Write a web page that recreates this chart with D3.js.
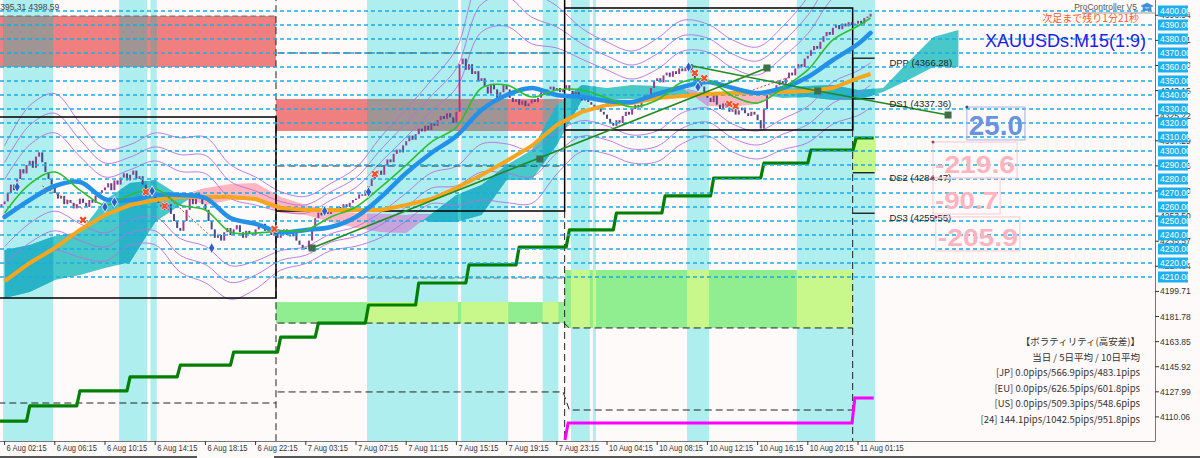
<!DOCTYPE html>
<html><head><meta charset="utf-8">
<script src="https://cdn.jsdelivr.net/npm/d3@7"></script>
<style>
html,body{margin:0;padding:0;background:#fffafa;overflow:hidden}
svg{display:block}
</style></head><body>
<svg id="c" width="1200" height="458"></svg>
<script>
// ---------------- DATA ----------------
const firstBar = -1;
const firstOpen = 4260;
const closes = [
4262,
4264,4270,4276,4272,4280,4287,4284,4290,4293,4288,4296,4299,4292,4285,4280,4276,
4270,4266,4268,4262,4265,4263,4259,4262,4266,4263,4260,4265,4263,4268,4270,4272,
4274,4277,4272,4279,4276,4281,4284,4279,4283,4286,4280,4282,4276,4272,4270,4268,
4266,4263,4260,4258,4262,4255,4250,4245,4243,4250,4258,4266,4262,4270,4268,4262,
4258,4250,4244,4238,4240,4236,4242,4245,4240,4244,4247,4242,4238,4243,4241,4240,
4244,4246,4248,4243,4245,4240,4242,4238,4241,4244,4240,4239,4242,4236,4233,4231,
4230,4236,4245,4252,4256,4254,4258,4255,4259,4257,4260,4258,4262,4260,4263,4265,
4266,4269,4268,4272,4275,4280,4284,4286,4283,4290,4294,4292,4298,4301,4299,4304,
4307,4311,4308,4312,4316,4314,4318,4315,4320,4318,4322,4325,4323,4327,4324,4320,
4328,4362,4366,4358,4362,4355,4357,4350,4352,4346,4341,4348,4344,4337,4342,4347,
4344,4338,4335,4337,4333,4336,4332,4334,4337,4335,4338,4342,4340,4344,4346,4343,
4345,4342,4344,4347,4343,4340,4342,4338,4336,4339,4335,4333,4330,4332,4328,4326,
4323,4320,4318,4322,4320,4325,4328,4326,4330,4333,4331,4336,4340,4338,4345,4350,
4352,4349,4354,4356,4353,4357,4355,4359,4357,4360,4362,4356,4350,4352,4346,4342,
4338,4335,4340,4333,4330,4334,4331,4328,4330,4326,4329,4331,4327,4325,4328,4326,
4322,4316,4330,4340,4344,4342,4347,4350,4348,4352,4356,4354,4359,4362,4360,4366,
4368,4372,4375,4373,4378,4382,4385,4383,4388,4390,4387,4391,4389,4392,4390,4391,
4393,4391,4395,4396,4398
];

// indicator samples (every 8 bars, last = bar 276)
const blueMA = [4252.9,4265.0,4275.0,4277.9,4265.7,4265.0,4268.6,4268.6,4266.4,4252.1,4247.9,4242.1,4243.6,4245.7,4252.9,4267.1,4284.3,4298.6,4310.7,4329.3,4340.0,4345.0,4340.0,4338.6,4335.7,4335.0,4340.7,4345.7,4349.3,4345.0,4341.4,4345.0,4352.9,4365.0,4376.4,4384.3];
const greenMA = [4255.7,4276.4,4285.0,4272.1,4261.4,4268.6,4272.9,4261.4,4257.9,4242.1,4241.4,4242.9,4243.6,4252.9,4260.0,4274.3,4290.0,4306.4,4317.1,4345.0,4347.1,4338.6,4343.6,4343.6,4337.9,4331.4,4336.4,4349.3,4350.7,4339.3,4334.3,4345.0,4357.9,4379.3,4389.3,4395.0];
const orangeLine = [4207.1,4220.0,4230.7,4243.6,4254.3,4261.4,4265.0,4267.1,4267.1,4267.1,4265.7,4259.3,4257.9,4257.9,4257.9,4257.9,4261.4,4265.7,4273.6,4282.9,4292.9,4303.6,4318.6,4327.9,4332.9,4334.3,4337.9,4339.3,4340.7,4341.4,4341.4,4342.1,4342.9,4345.0,4352.1,4355.0];
const bandSigma = [12,14,14,12,10,9,10,12,13,12,10,7,6,6,7,9,10,11,14,20,21,19,15,11,10,10,11,11,10,10,10,11,13,15,16,16];
const bandMultipliers = [2,3,4];

// cloud (every 8 bars from 0 to 304)
const spanA = [4229.3,4232.9,4239.3,4242.1,4265.0,4277.1,4279.3,4267.9,4261.4,4265.0,4265.0,4255.7,4254.3,4249.3,4245.0,4242.1,4241.4,4255.0,4268.6,4275.7,4290.0,4300.7,4332.9,4347.1,4345.0,4347.1,4346.4,4345.0,4332.1,4331.4,4333.6,4345.0,4346.4,4347.1,4343.6,4345.0,4363.6,4381.4,4386.4];
const spanB = [4195.0,4199.3,4207.9,4211.4,4216.4,4220.7,4249.3,4261.4,4273.6,4276.4,4277.1,4267.1,4261.4,4257.9,4255.7,4255.0,4254.3,4249.3,4249.3,4254.3,4279.3,4279.3,4304.3,4336.4,4336.4,4337.1,4337.9,4337.9,4340.7,4340.0,4340.7,4337.9,4338.6,4336.4,4336.4,4342.1,4350.7,4360.0,4360.0];

// session bands [first bar, last bar]
const sessionBands = [[0,15],[37,45],[47,48],[116,144],[146,160],[172,176],[181,186],[188,188],[218,224],[253,277]];

// zones
const redZoneStart = [-2, 86.5];
const redZoneEnd   = [86.5, 178.5];
const redZoneLow   = [4360.0, 4314.3];
const redZoneHigh  = [4396.4, 4337.1];
const greenZoneStart = [86.5, 178.5, 270.3];
const greenZoneEnd   = [178.5, 270.3, 277.5];
const greenZoneLow   = [4177.1, 4173.6, 4285.0];
const greenZoneHigh  = [4192.1, 4215.0, 4310.0];

// day boxes (solid) and levels (dashed)
const solidLines = [
  [[-2,4324.3],[86.5,4324.3],[86.5,4195.0],[-2,4195.0]],
  [[86.5,4257.1],[178.5,4257.1],[178.5,4415]],
  [[178.5,4402.1],[270.3,4402.1],[270.3,4315.0],[178.5,4315.0]],
  [[270.3,4366.28],[270.3,4315.0]]
];
const dashedLines = [
  [[-2,4120.0],[86.5,4120.0]],
  [[87,4370.0],[178.3,4370.0]],
  [[87,4289.3],[178.3,4289.3]],
  [[87,4177.1],[178.3,4177.1],[180,4173.6],[270.3,4173.6]],
  [[87,4127.9],[178,4127.9],[180,4115.0],[270.3,4115.0]],
  [[86.5,4412],[86.5,4088]],
  [[178.5,4257.1],[178.5,4088]],
  [[270.3,4315.0],[270.3,4088]]
];
const grayDashedLines = [
  [[-2,4396.4],[86.5,4396.4]],
  [[87,4209.3],[178.3,4209.3]]
];

// step lines
const greenStepBars   = [-2,7,23,39,55,72,87,99,115,131,147,163,179,194,209.5,225,241,256,270.4,277];
const greenStepLevels = [4107.1,4117.9,4128.6,4138.6,4147.1,4156.4,4167.1,4177.1,4190.0,4205.7,4218.6,4231.4,4243.6,4255.7,4267.9,4280.7,4291.4,4300.7,4309.3];
const magentaStepBars   = [178.6,179.6,270.1,271,277];
const magentaStepLevels = [4093.6,4105.7,4105.7,4123.6,4123.6];

// trend lines
const trendA = [[98,4230.7],[170.6,4294.3],[243,4359.3]];
const trendB = [[217.8,4361.4],[259.2,4342.9],[300.7,4325.7]];
const dottedLines = [[[12,4275.1],[25,4258.6]],[[52,4267.1],[66,4238.6]],[[238.5,4343.6],[250.3,4352.9]]];

// signals
const blueSignalBars   = [4,32,35,47,66,102,116,218,221];
const blueSignalPrices = [4274.3,4260.0,4263.6,4271.4,4230.7,4257.1,4270.7,4360.0,4345.7];
const redSignalBars    = [25,45,51,86,118,220,223,231,233];
const redSignalPrices  = [4250.7,4270.7,4260.7,4244.3,4283.6,4355.7,4352.0,4333.6,4332.1];

// pivots
const pivotNames  = ["DPP","DS1","DS2","DS3"];
const pivotValues = [4366.28,4337.36,4284.47,4255.55];

// big numbers
const bigValues = ["25.0","-219.6","-90.7","-205.9"];

// axes
const gridLevels = [4400,4390,4380,4370,4360,4350,4340,4330,4320,4310,4300,4290,4280,4270,4260,4250,4240,4230,4220,4210];
const nativeTicks = [4110.06,4127.99,4145.92,4163.85,4181.78,4199.71,4217.64,4235.57,4253.50,4271.43,4289.36,4307.29,4325.22,4343.15,4361.08,4379.01,4396.94];
const timeTickBars = [0,16,32,48,64,80,96,112,128,144,160,176,192,208,224,240,256,272];
const timeLabels = ["6 Aug 02:15","6 Aug 06:15","6 Aug 10:15","6 Aug 14:15","6 Aug 18:15","6 Aug 22:15","7 Aug 03:15","7 Aug 07:15","7 Aug 11:15","7 Aug 15:15","7 Aug 19:15","7 Aug 23:15","10 Aug 04:15","10 Aug 08:15","10 Aug 12:15","10 Aug 16:15","10 Aug 20:15","11 Aug 01:15"];

const volLines = ["【ボラティリティ(高安差)】","当日 / 5日平均 / 10日平均","[JP] 0.0pips/566.9pips/483.1pips","[EU] 0.0pips/626.5pips/601.8pips","[US] 0.0pips/509.3pips/548.6pips","[24] 144.1pips/1042.5pips/951.8pips"];
const bidAsk = "4395.31 4398.59";
const bidPrice = 4398.59;

// ---------------- DRAW ----------------
const W = 1200, H = 458, PR = 1155, PB = 441;
const svg = d3.select("#c");
const x = d3.scaleLinear().domain([0, 272]).range([4.6, 858]);
const y = d3.scaleLinear().domain([4400, 4210]).range([11, 277]);
const FONT = "'Liberation Sans', Arial, sans-serif";
const CJK = "'Noto Sans CJK JP', 'Liberation Sans', sans-serif";

svg.append("rect").attr("width", W).attr("height", H).attr("fill", "#fffafa");
const defs = svg.append("defs");
defs.append("clipPath").attr("id","plot").append("rect").attr("x",0).attr("y",0).attr("width",PR).attr("height",PB);
const bandClip = defs.append("clipPath").attr("id","bands");
sessionBands.forEach(b => bandClip.append("rect").attr("x", x(b[0]-0.5)).attr("y",0).attr("width", x(b[1]+0.5)-x(b[0]-0.5)).attr("height",PB));

const g = svg.append("g").attr("clip-path","url(#plot)");

// session bands
g.selectAll(".band").data(sessionBands).join("rect")
  .attr("x", d => x(d[0]-0.5)).attr("y", 0)
  .attr("width", d => x(d[1]+0.5)-x(d[0]-0.5)).attr("height", PB)
  .attr("fill", "#afeeee");

// zones with blend where overlapping bands
function drawZones(starts, ends, lows, highs, col, blend){
  starts.forEach((s,i)=>{
    const e = ends[i], lo = lows[i], hi = highs[i];
    g.append("rect").attr("x", x(s)).attr("y", y(hi)).attr("width", x(e)-x(s)).attr("height", y(lo)-y(hi)).attr("fill", col);
    sessionBands.forEach(b=>{
      const a0 = Math.max(s, b[0]-0.5), a1 = Math.min(e, b[1]+0.5);
      if (a1 > a0) g.append("rect").attr("x", x(a0)).attr("y", y(hi)).attr("width", x(a1)-x(a0)).attr("height", y(lo)-y(hi)).attr("fill", blend);
    });
  });
}
drawZones(redZoneStart, redZoneEnd, redZoneLow, redZoneHigh, "#f08080", "#a09494");
drawZones(greenZoneStart, greenZoneEnd, greenZoneLow, greenZoneHigh, "#90ee90", "#c8f78c");

// cloud
const cloudData = spanA.map((a,i)=>({b: i*8, a, s: spanB[i]}));
const tealArea = d3.area().x(d=>x(d.b)).y0(d=>y(d.s)).y1(d=>y(Math.max(d.a,d.s))).curve(d3.curveLinear);
const pinkArea = d3.area().x(d=>x(d.b)).y0(d=>y(d.a)).y1(d=>y(Math.max(d.a,d.s))).curve(d3.curveLinear);
g.append("path").attr("d", tealArea(cloudData)).attr("fill", "#48c8c8");
g.append("path").attr("d", pinkArea(cloudData)).attr("fill", "#ffb6c1");
const gc = g.append("g").attr("clip-path","url(#bands)");
gc.append("path").attr("d", tealArea(cloudData)).attr("fill", "#28b4c6");
gc.append("path").attr("d", pinkArea(cloudData)).attr("fill", "#c4a6dc");

// sample bars for indicators
const sampleBars = blueMA.map((v,i)=> i < blueMA.length-1 ? i*8 : 276);

// bollinger-type bands
bandMultipliers.forEach(k=>{
  [1,-1].forEach(sg=>{
    const ln = d3.line().x((d,i)=>x(sampleBars[i])).y((d,i)=>y(greenMA[i] + sg*k*bandSigma[i])).curve(d3.curveCatmullRom);
    g.append("path").attr("d", ln(greenMA)).attr("fill","none").attr("stroke","#b46fe0").attr("stroke-width",0.9);
  });
});

// lines helpers
const pl = d3.line().x(d=>x(d[0])).y(d=>y(d[1]));
dashedLines.forEach(l=> g.append("path").attr("d", pl(l)).attr("fill","none").attr("stroke","#222").attr("stroke-width",1).attr("stroke-dasharray","7,4"));
grayDashedLines.forEach(l=> g.append("path").attr("d", pl(l)).attr("fill","none").attr("stroke","#777").attr("stroke-width",1.2).attr("stroke-dasharray","6,3"));
solidLines.forEach(l=> g.append("path").attr("d", pl(l)).attr("fill","none").attr("stroke","#000").attr("stroke-width",1.5));

// pivot short lines
pivotValues.forEach(v=> g.append("line").attr("x1", x(270.3)).attr("x2", x(277.3)).attr("y1", y(v)).attr("y2", y(v)).attr("stroke","#111").attr("stroke-width",1.3));

// step lines
function stepPts(bars, levels){
  const pts = [];
  for (let i=0;i<levels.length;i++){
    pts.push([i===0 ? bars[0] : bars[i]+1, levels[i]]);
    pts.push([bars[i+1], levels[i]]);
  }
  return pts;
}
g.append("path").attr("d", pl(stepPts(greenStepBars, greenStepLevels))).attr("fill","none").attr("stroke","#008000").attr("stroke-width",3.2).attr("stroke-linejoin","round");
g.append("path").attr("d", pl(magentaStepBars.map((b,i)=>[b, magentaStepLevels[i]]))).attr("fill","none").attr("stroke","#ff00ff").attr("stroke-width",3);

// candles
const candles = closes.map((c,i)=>({bar: firstBar+i, o: i ? closes[i-1] : firstOpen, c}));
g.selectAll(".cd").data(candles).join("rect")
  .attr("x", d=>x(d.bar)-1).attr("width", 2)
  .attr("y", d=>y(Math.max(d.o,d.c)))
  .attr("height", d=>Math.max(1.2, Math.abs(y(d.o)-y(d.c))))
  .attr("fill", d=> d.c >= d.o ? "#9a3d8c" : "#4a4a86");

// grid dashed levels
gridLevels.forEach(v=> g.append("line").attr("x1",0).attr("x2",PR).attr("y1",y(v)).attr("y2",y(v)).attr("stroke","#1aaae6").attr("stroke-width",1.5).attr("stroke-dasharray","4,3"));

// moving averages
const maLine = d3.line().x((d,i)=>x(sampleBars[i])).y(d=>y(d));
g.append("path").attr("d", maLine.curve(d3.curveLinear)(orangeLine)).attr("fill","none").attr("stroke","#f7a51c").attr("stroke-width",4);
g.append("path").attr("d", maLine.curve(d3.curveCatmullRom)(blueMA)).attr("fill","none").attr("stroke","#2391e8").attr("stroke-width",4.5).attr("stroke-linecap","round");
g.append("path").attr("d", maLine.curve(d3.curveCatmullRom)(greenMA)).attr("fill","none").attr("stroke","#2dbf2d").attr("stroke-width",1.6);

// trend lines
g.append("path").attr("d", pl([trendA[0], trendA[2]])).attr("stroke","#1f8a1f").attr("stroke-width",1.6).attr("fill","none");
g.append("path").attr("d", pl(trendB)).attr("stroke","#1f8a1f").attr("stroke-width",1.6).attr("fill","none");
trendA.concat(trendB.slice(1)).forEach(p=> g.append("rect").attr("x",x(p[0])-3.5).attr("y",y(p[1])-3.5).attr("width",7).attr("height",7).attr("fill","#3d7048"));
dottedLines.forEach(l=> g.append("path").attr("d", pl(l)).attr("fill","none").attr("stroke","#d04a3a").attr("stroke-width",1).attr("stroke-dasharray","2,2"));

// signals
const dia = d3.symbol().type(d3.symbolDiamond).size(34);
blueSignalBars.forEach((b,i)=> g.append("path").attr("d", dia()).attr("transform",`translate(${x(b)},${y(blueSignalPrices[i])})`).attr("fill","#2a5fd0").attr("stroke","#fff").attr("stroke-width",0.8));
const cross = d3.symbol().type(d3.symbolCross).size(40);
redSignalBars.forEach((b,i)=> g.append("path").attr("d", cross()).attr("transform",`translate(${x(b)},${y(redSignalPrices[i])}) rotate(45)`).attr("fill","#f0502a").attr("stroke","#fff").attr("stroke-width",0.6));

// pivot labels
pivotNames.forEach((n,i)=> g.append("text").attr("x", x(282)).attr("y", y(pivotValues[i])+8).attr("font-family",FONT).attr("font-size",9.5).attr("fill","#222").text(`${n} (${pivotValues[i].toFixed(2)})`));

// big numbers
const bigLayout = [
  {b0:306.7,b1:325.2,top:4331.4,bot:4307.9,col:"#6a92e0",border:"#9fb3e6",fs:28},
  {b0:295.9,b1:322.7,top:4306.4,bot:4280.7,col:"#ffb3c0",border:"#ffc8d2",fs:24},
  {b0:295.9,b1:317.3,top:4280.7,bot:4255.0,col:"#ffb3c0",border:"#ffc8d2",fs:24},
  {b0:296.8,b1:323.6,top:4252.9,bot:4228.6,col:"#ffb3c0",border:"#ffc8d2",fs:24}
];
bigValues.forEach((t,i)=>{
  const L = bigLayout[i];
  const x0 = x(L.b0), x1 = x(L.b1), y0 = y(L.top), y1 = y(L.bot);
  g.append("rect").attr("x",x0).attr("y",y0).attr("width",x1-x0).attr("height",y1-y0).attr("fill","none").attr("stroke",L.border).attr("stroke-width",1);
  g.append("text").attr("x",x0+2).attr("y",y1-5).attr("font-family",FONT).attr("font-weight","bold").attr("font-size",L.fs)
    .attr("textLength", x1-x0-4).attr("lengthAdjust","spacingAndGlyphs").attr("fill",L.col).text(t);
  g.append("circle").attr("cx",x0).attr("cy",y0).attr("r",1.5).attr("fill", i===0 ? "#3050a0" : "#a04050");
});

// header texts
g.append("text").attr("x",-4.5).attr("y",10).attr("font-family",FONT).attr("font-size",8.5).attr("fill","#444").text(bidAsk);
g.append("line").attr("x1",1082).attr("x2",PR).attr("y1",y(bidPrice)).attr("y2",y(bidPrice)).attr("stroke","#999").attr("stroke-width",1);
g.append("text").attr("x",1137).attr("y",10).attr("text-anchor","end").attr("font-family",FONT).attr("font-size",8.5).attr("fill","#555").text("ProController V5");
g.append("path").attr("d","M1141,6 L1147,3 L1153,6 L1147,9 Z M1143,7.5 L1143,10.5 L1151,10.5 L1151,7.5").attr("fill","#3b8fd9").attr("stroke","#3b8fd9").attr("stroke-width",0.6);
g.append("text").attr("x",1139).attr("y",22).attr("text-anchor","end").attr("font-family",CJK).attr("font-size",10).attr("fill","#ff5a28").text("次足まで残り1分21秒");
g.append("text").attr("x",1146).attr("y",47).attr("text-anchor","end").attr("font-family",FONT).attr("font-size",18).attr("fill","#1e1ee6").text("XAUUSDs:M15(1:9)");

// volatility block
volLines.forEach((t,i)=> g.append("text").attr("x",1140).attr("y",345 + i*15.5).attr("text-anchor","end").attr("font-family",CJK).attr("font-size",9.5).attr("fill","#333").text(t));

// ---------------- AXES ----------------
svg.append("line").attr("x1",PR+0.5).attr("x2",PR+0.5).attr("y1",0).attr("y2",PB).attr("stroke","#777").attr("stroke-width",1);
svg.append("line").attr("x1",0).attr("x2",PR+0.5).attr("y1",PB+0.5).attr("y2",PB+0.5).attr("stroke","#777").attr("stroke-width",1);

nativeTicks.forEach(v=>{
  svg.append("line").attr("x1",PR).attr("x2",PR+4).attr("y1",y(v)).attr("y2",y(v)).attr("stroke","#333");
  svg.append("text").attr("x",PR+5).attr("y",y(v)+3).attr("font-family",FONT).attr("font-size",8.5).attr("fill","#333").text(v.toFixed(2));
});
gridLevels.forEach(v=>{
  svg.append("rect").attr("x",PR+3).attr("y",y(v)-5.5).attr("width",30).attr("height",11).attr("fill","#1eb0ee");
  svg.append("text").attr("x",PR+5).attr("y",y(v)+3.2).attr("font-family",FONT).attr("font-size",8.5).attr("fill","#fff").text(v.toFixed(2));
});

timeTickBars.forEach((b,i)=>{
  svg.append("line").attr("x1",x(b)).attr("x2",x(b)).attr("y1",PB).attr("y2",PB+4).attr("stroke","#333");
  svg.append("text").attr("x",x(b)+2).attr("y",451).attr("font-family",FONT).attr("font-size",8.5)
    .attr("textLength", timeLabels[i].length*3.65).attr("lengthAdjust","spacingAndGlyphs")
    .attr("fill","#333").text(timeLabels[i]);
});
svg.append("line").attr("x1",0).attr("x2",197).attr("y1",457).attr("y2",457).attr("stroke","#555").attr("stroke-width",2);
svg.append("line").attr("x1",274).attr("x2",W).attr("y1",457).attr("y2",457).attr("stroke","#555").attr("stroke-width",2);
</script>
</body></html>
